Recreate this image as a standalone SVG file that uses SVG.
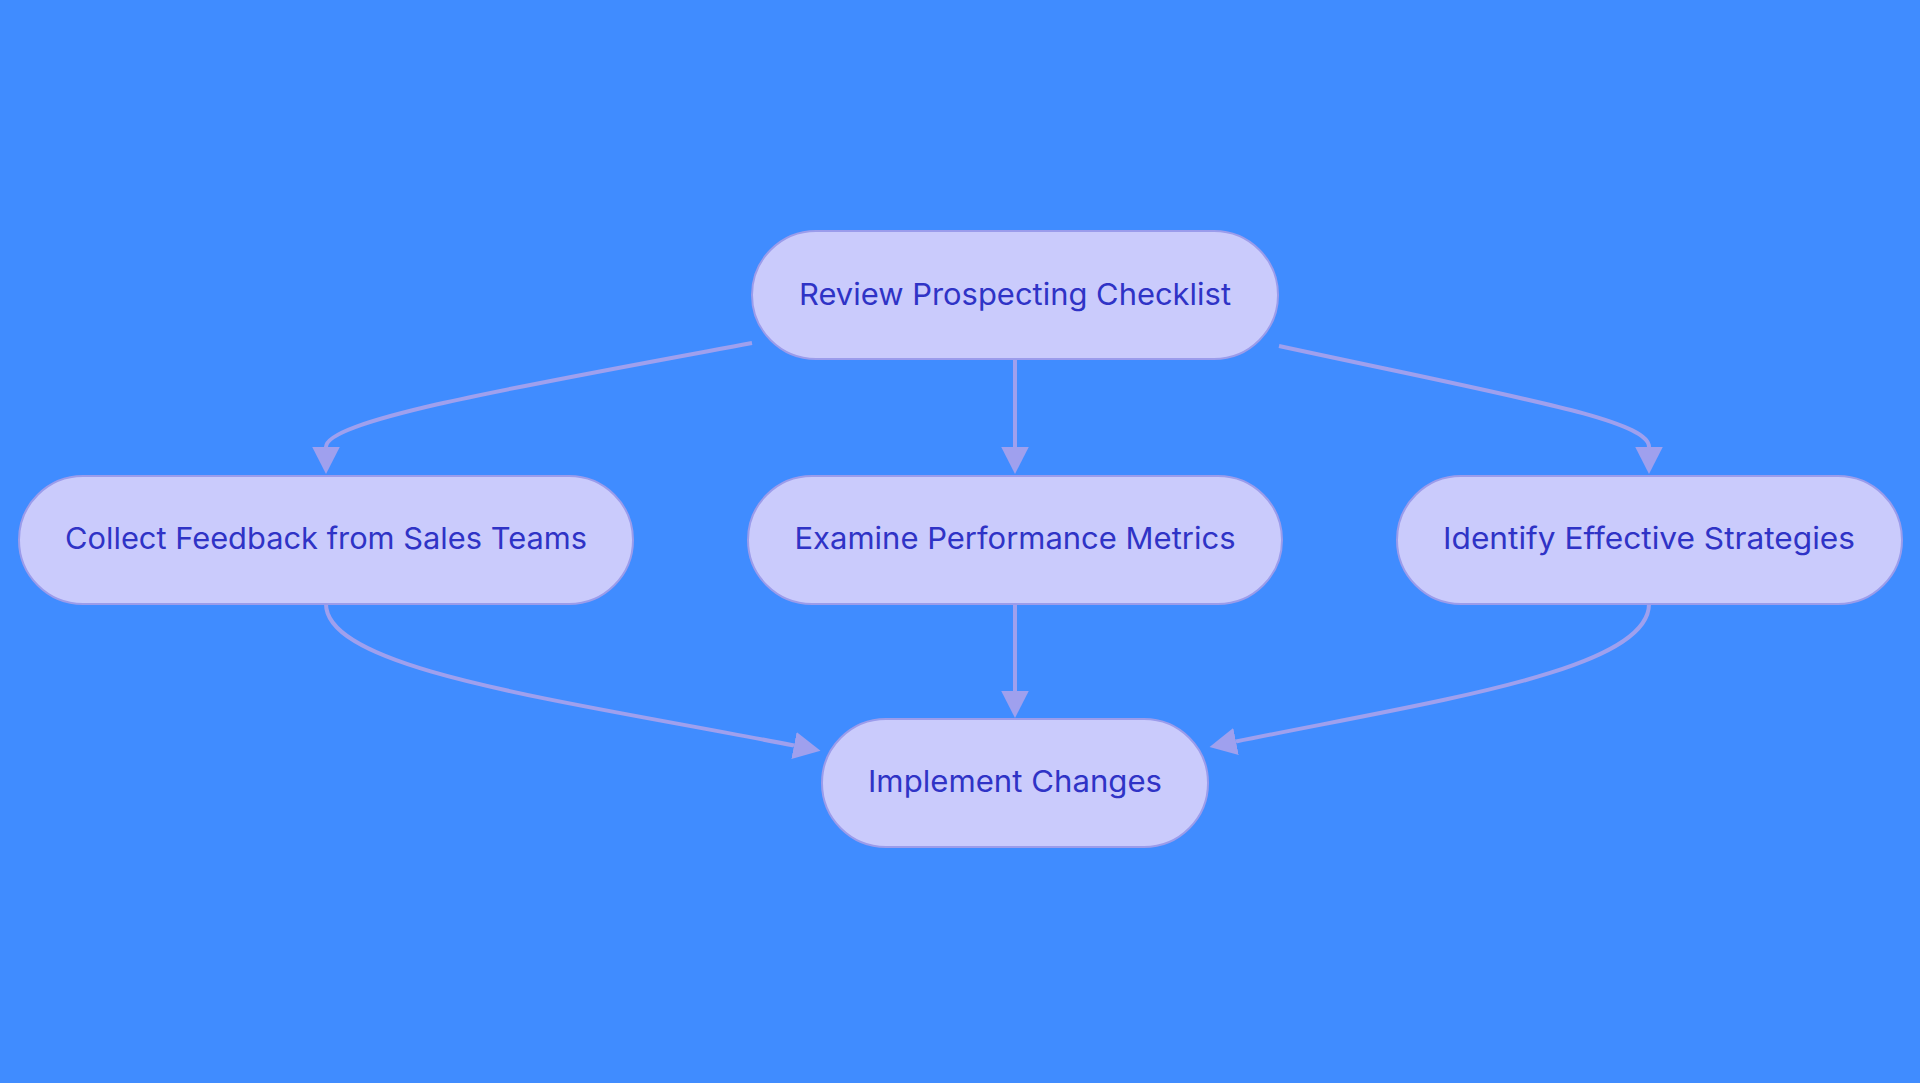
<svg xmlns="http://www.w3.org/2000/svg" width="1920" height="1083" viewBox="0 0 1920 1083">
<style>
.node rect{fill:#CACBFC;stroke:#9B9CEB;stroke-width:2}
.node text{font-family:Inter,"Liberation Sans",sans-serif;font-size:30px;fill:#2F33C6;text-anchor:middle}
.edge{fill:none;stroke:#9FA0EE;stroke-width:4}
</style>
<defs>
<marker id="arr" markerUnits="userSpaceOnUse" markerWidth="28" markerHeight="28" refX="0" refY="13.75" orient="auto" viewBox="0 0 28 28">
<path d="M0,0 L27,13.75 L0,27.5 Z" fill="#9FA0EE"/>
</marker>
</defs>
<rect width="1920" height="1083" fill="#408CFF"/>
<g id="connectors">
<path class="edge" d="M752,343 C520,386 326,420 326,447" marker-end="url(#arr)"/>
<path class="edge" d="M1015,359 L1015,447" marker-end="url(#arr)"/>
<path class="edge" d="M1279,346 C1520,398 1649,420 1649,447" marker-end="url(#arr)"/>
<path class="edge" d="M326,604 C326,670 560,700 794,745.5" marker-end="url(#arr)"/>
<path class="edge" d="M1015,604 L1015,691" marker-end="url(#arr)"/>
<path class="edge" d="M1649,604 C1649,670 1440,700 1236,741.5" marker-end="url(#arr)"/>
</g>
<g id="review" class="node">
<rect x="752" y="231" width="526" height="128" rx="64" ry="64"/>
<text x="1015" y="305" textLength="432" lengthAdjust="spacingAndGlyphs">Review Prospecting Checklist</text>
</g>
<g id="collect" class="node">
<rect x="19" y="476" width="614" height="128" rx="64" ry="64"/>
<text x="326" y="549" textLength="522" lengthAdjust="spacingAndGlyphs">Collect Feedback from Sales Teams</text>
</g>
<g id="examine" class="node">
<rect x="748" y="476" width="534" height="128" rx="64" ry="64"/>
<text x="1015" y="549" textLength="441" lengthAdjust="spacingAndGlyphs">Examine Performance Metrics</text>
</g>
<g id="identify" class="node">
<rect x="1397" y="476" width="505" height="128" rx="64" ry="64"/>
<text x="1649" y="549" textLength="412" lengthAdjust="spacingAndGlyphs">Identify Effective Strategies</text>
</g>
<g id="implement" class="node">
<rect x="822" y="719" width="386" height="128" rx="64" ry="64"/>
<text x="1015" y="792" textLength="294" lengthAdjust="spacingAndGlyphs">Implement Changes</text>
</g>
</svg>
